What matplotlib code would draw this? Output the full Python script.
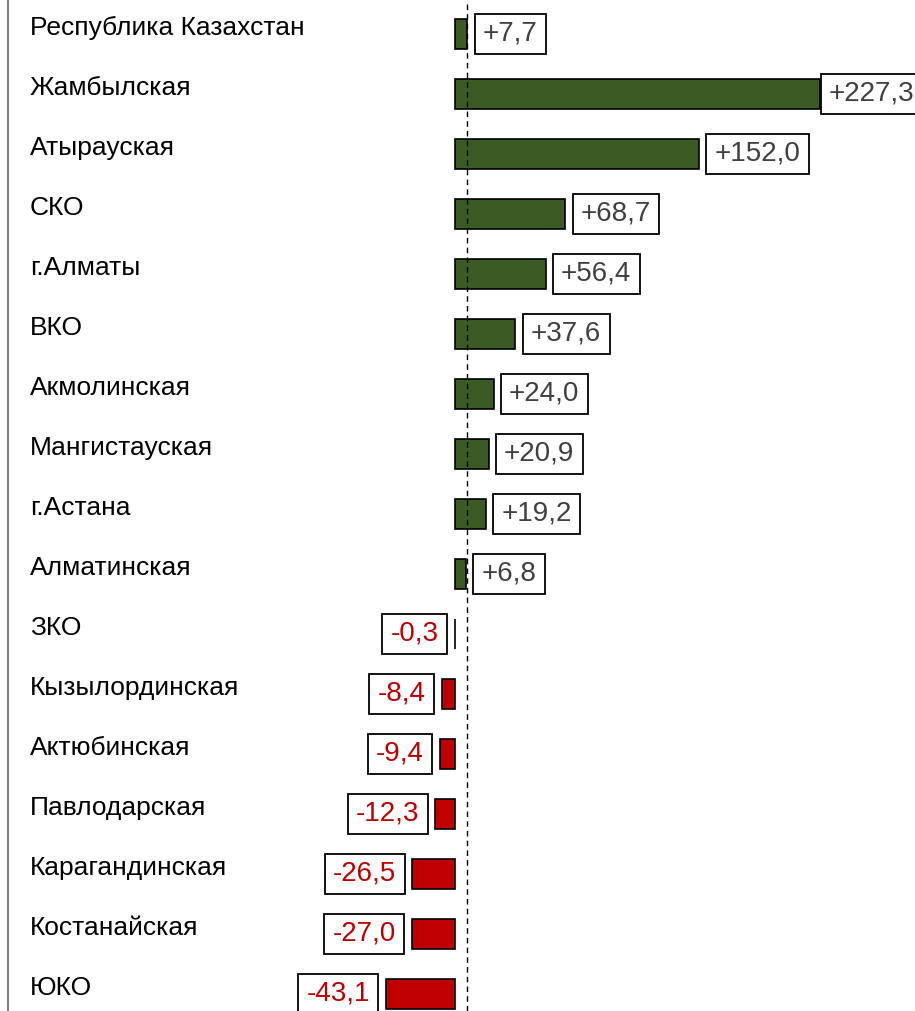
import numpy as np
import matplotlib
matplotlib.use("Agg")
import matplotlib.pyplot as plt
import matplotlib.transforms as mtransforms

# regions and growth values
regions = ["Республика Казахстан", "Жамбылская", "Атырауская", "СКО", "г.Алматы",
           "ВКО", "Акмолинская", "Мангистауская", "г.Астана", "Алматинская",
           "ЗКО", "Кызылординская", "Актюбинская", "Павлодарская",
           "Карагандинская", "Костанайская", "ЮКО"]
values = [7.7, 227.3, 152.0, 68.7, 56.4, 37.6, 24.0, 20.9, 19.2, 6.8,
          -0.3, -8.4, -9.4, -12.3, -26.5, -27.0, -43.1]

GREEN = "#3B5A24"
RED = "#C00000"

plt.rcParams['font.family'] = ['Liberation Sans', 'DejaVu Sans']

fig = plt.figure(figsize=(9.15, 10.11), dpi=100)
ax = fig.add_axes([8 / 915, 0, 1 - 8 / 915, 1])

y = np.arange(len(values))
vals = np.array(values)
colors = [GREEN if v >= 0 else RED for v in vals]
ax.barh(y, vals, height=0.5, color=colors, edgecolor="black", linewidth=1.2, zorder=2)

# republic average as dashed line
ax.axvline(values[0], color="black", linestyle=(0, (4, 3)), linewidth=1, zorder=3)

ax.set_xlim(-278.4, 286.5)
ax.set_ylim(16.283, -0.567)

for s in ["top", "right", "bottom"]:
    ax.spines[s].set_visible(False)
ax.spines["left"].set_color("#808080")
ax.spines["left"].set_linewidth(1.5)
ax.set_xticks([])
ax.set_yticks([])

# category labels
trans = mtransforms.blended_transform_factory(ax.transAxes, ax.transData)
for i, name in enumerate(regions):
    ax.annotate(name, (0.0243, i), xycoords=trans, xytext=(0, -0.8),
                textcoords="offset points", ha="left", va="baseline",
                fontsize=19, color="black")

# value labels in boxes
imax = int(np.argmax(vals))
for i, v in enumerate(vals):
    txt = f"{v:+.1f}".replace(".", ",")
    if v >= 0:
        dx = 6.5 if i == imax else 11.2
        ha = "left"
        c = "#404040"
    else:
        dx = -11.5
        ha = "right"
        c = RED
    ax.annotate(txt, (v, i), xytext=(dx, -5.0), textcoords="offset points",
                ha=ha, va="baseline", fontsize=20, color=c, zorder=4,
                bbox=dict(boxstyle="square,pad=0.3", fc="white", ec="black",
                          lw=1.3, mutation_aspect=0.8))

fig.savefig("out.png", dpi=100)
